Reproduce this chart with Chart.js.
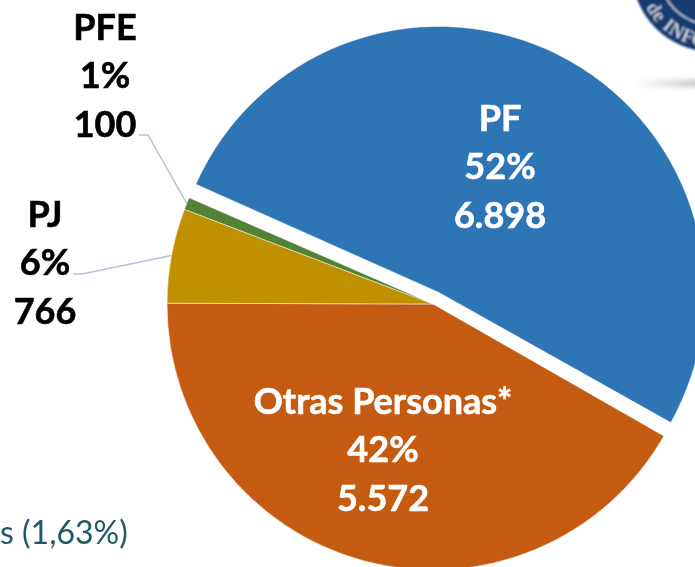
<!DOCTYPE html>
<html lang="es">
<head>
<meta charset="utf-8">
<title>Distribución por tipo de persona</title>
<script src="https://cdn.jsdelivr.net/npm/chart.js@4"></script>
<style>
html,body{margin:0;padding:0;width:695px;height:567px;overflow:hidden;background:#fff}
#wrap{position:relative;width:695px;height:567px;overflow:hidden}
canvas{position:absolute;left:0;top:0}
svg{position:absolute;left:0;top:0}
#note{position:absolute;left:0;top:514px;font:32px Lato,"Open Sans",sans-serif;color:#215868;white-space:nowrap;line-height:36px}
</style>
</head>
<body>
<div id="wrap">
<svg width="695" height="567" viewBox="0 0 695 567">
  <defs>
    <filter id="blur" x="-30%" y="-200%" width="160%" height="500%"><feGaussianBlur stdDeviation="3"/></filter>
    <filter id="soft" x="-5%" y="-5%" width="110%" height="110%"><feGaussianBlur stdDeviation="0.8"/></filter>
    <linearGradient id="shade" x1="0" x2="1" y1="0" y2="0"><stop offset="0" stop-color="#ffffff"/><stop offset="1" stop-color="#a0a0a0"/></linearGradient>
    <path id="ringText" d="M 637 -29 A 76 76 0 0 0 789 -29" fill="none"/>
  </defs>
  <rect x="635" y="81" width="70" height="5" fill="url(#shade)" filter="url(#blur)"/>
  <g filter="url(#soft)">
    <circle cx="713" cy="-29" r="81" fill="#173a6e"/>
    <circle cx="713" cy="-29" r="54" fill="none" stroke="#c9d3e4" stroke-width="1.5"/>
    <text font-family="Liberation Serif,serif" font-size="19" fill="#e8edf5" letter-spacing="1"><textPath href="#ringText" startOffset="38">de INFO</textPath></text>
  </g>
</svg>
<canvas id="c" width="695" height="567"></canvas>
<div id="note">s (1,63%)</div>
</div>
<script>
const categories = ["PF", "Otras Personas*", "PJ", "PFE"];
const values = [6898, 5572, 766, 100];
const percentLabels = ["52%", "42%", "6%", "1%"];
const valueLabels = ["6.898", "5.572", "766", "100"];
const sliceColors = ["#2E75B6", "#C55A11", "#BF9000", "#548235"];
const labelColors = ["#ffffff", "#ffffff", "#000000", "#000000"];

// layout only
const labelCentres = [[500, 119], [383, 402], [45, 215], [105, 28]];
const leaderElbows = [null, null, [[73, 274], [82, 274]], [[139, 135], [148, 135]]];
const LINE_STEP = 48.5;
const SLICE_OFFSETS = [52, 0, 0, 0];

const labelPlugin = {
  id: "sliceLabels",
  // Chart.js grows an exploded arc by offset/4; keep every slice the same radius.
  afterDatasetsUpdate(chart) {
    chart.getDatasetMeta(0).data.forEach((arc, i) => {
      arc.outerRadius -= SLICE_OFFSETS[i] / 4;
    });
  },
  afterDatasetsDraw(chart) {
    const ctx = chart.ctx;
    const arcs = chart.getDatasetMeta(0).data;
    ctx.save();
    ctx.strokeStyle = "#b4c2d8";
    ctx.lineWidth = 1.5;
    arcs.forEach((arc, i) => {
      const elbow = leaderElbows[i];
      if (!elbow) return;
      const mid = (arc.startAngle + arc.endAngle) / 2;
      ctx.beginPath();
      ctx.moveTo(elbow[0][0], elbow[0][1]);
      ctx.lineTo(elbow[1][0], elbow[1][1]);
      ctx.lineTo(arc.x + Math.cos(mid) * arc.outerRadius, arc.y + Math.sin(mid) * arc.outerRadius);
      ctx.stroke();
    });
    ctx.font = "bold 36px Lato, 'Open Sans', sans-serif";
    ctx.textAlign = "center";
    ctx.textBaseline = "middle";
    ctx.lineWidth = 0.6;
    arcs.forEach((arc, i) => {
      const [x, y] = labelCentres[i];
      ctx.fillStyle = labelColors[i];
      ctx.strokeStyle = labelColors[i];
      [categories[i], percentLabels[i], valueLabels[i]].forEach((t, k) => {
        ctx.fillText(t, x, y + k * LINE_STEP);
        ctx.strokeText(t, x, y + k * LINE_STEP);
      });
    });
    ctx.restore();
  }
};

new Chart(document.getElementById("c"), {
  type: "pie",
  data: {
    labels: categories,
    datasets: [{
      data: values,
      backgroundColor: sliceColors,
      borderColor: "#ffffff",
      borderWidth: 0.5,
      offset: SLICE_OFFSETS,
      clip: false
    }]
  },
  options: {
    responsive: false,
    animation: false,
    rotation: -66.45,
    radius: 266,
    layout: { padding: { left: 171, top: 41 } },
    plugins: { legend: { display: false }, tooltip: { enabled: false } }
  },
  plugins: [labelPlugin]
});
</script>
</body>
</html>
